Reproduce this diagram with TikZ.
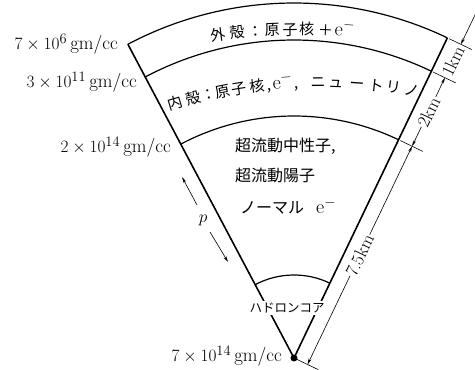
\documentclass[tikz,border=0pt]{standalone}
\usepackage{fontspec}
\newfontfamily\jpfont{Noto Sans CJK JP}
\usetikzlibrary{arrows.meta,calc}
\newcommand{\elec}{{\fontsize{20}{22}\selectfont$\mathrm{e}^{-}$}}
\begin{document}
\begin{tikzpicture}[x=1pt,y=1pt,
  edgeline/.style={line width=1.6pt,line join=round},
  shell/.style={line width=1.2pt},
  dimline/.style={line width=0.6pt},
  tip/.style={-{Stealth[length=6pt,width=3pt]}},
  bothtips/.style={{Stealth[length=6pt,width=3pt]}-{Stealth[length=6pt,width=3pt]}},
  dens/.style={anchor=east,font=\fontsize{19}{21}\selectfont,inner sep=1pt},
  kmlabel/.style={font=\fontsize{18}{20}\selectfont,fill=white,inner sep=1pt,rotate=64.4},
  jpl/.style={font=\jpfont\fontsize{16}{18}\selectfont,anchor=west,inner sep=0pt},
  arcchar/.style={font=\jpfont\fontsize{15}{17}\selectfont,anchor=base,inner sep=0pt},
]
\useasboundingbox (0,0) rectangle (475,370);
\def\angL{117.9}
\def\angR{64.4}
\coordinate (A) at (294,12);
% shells
\foreach \r/\n in {355/a,318/b,242/c,83/k}{
  \coordinate (l\n) at ($(A)+(\angL:\r)$);
  \coordinate (r\n) at ($(A)+(\angR:\r)$);
}
\draw[shell] (la) arc[start angle=\angL,end angle=\angR,radius=355];
\draw[shell] (lb) arc[start angle=\angL,end angle=\angR,radius=318];
\draw[shell] (lc) arc[start angle=\angL,end angle=\angR,radius=242];
\draw[shell] (lk) arc[start angle=\angL,end angle=\angR,radius=83];
\draw[edgeline] (la) -- (A) -- (ra);
\fill (A) circle (3.5);
% core label
\node[fill=white,font=\jpfont\fontsize{12.5}{14}\selectfont,inner sep=1.5pt] (core) at (287,62) {ハドロンコア};
% density labels
\node[dens] (d1) at (119,326) {$7\times10^{6}$\,gm/cc};
\node[dens] (d2) at (138,288) {$3\times10^{11}$\,gm/cc};
\node[dens] (d3) at (172,223) {$2\times10^{14}$\,gm/cc};
\node[dens] (d4) at (283,14) {$7\times10^{14}$\,gm/cc};
% texts in shells (set along arcs)
\coordinate (co) at (300,-300);
\coordinate (ci) at (320.7,-220.8);
\foreach \c/\a [count=\i] in {外/97.3,殻/95.6,：/94.0,原/92.5,子/90.9,核/89.4,＋/87.7,{\elec}/86.0}{
  \node[arcchar,rotate=\a-90] (o\i) at ($(co)+(\a:635)$) {\c};
}
\foreach \c/\a [count=\i] in {内/106.6,殻/104.5,：/102.7,原/101.1,子/99.2,核/97.2,{,}/95.8,{\elec}/94.3,{,}/92.8,ニ/90.3,ュ/88.3,ー/85.9,ト/83.7,リ/81.8,ノ/79.7}{
  \node[arcchar,rotate=\a-90] (i\i) at ($(ci)+(\a:503)$) {\c};
}
\node[jpl] (sn) at (235,224) {超流動中性子,};
\node[jpl] (sp) at (235,195) {超流動陽子};
\node[jpl] (ne) at (240,164) {ノーマル\hspace{12pt}\elec};
% p arrows
\node[font=\fontsize{18}{20}\selectfont] (p) at (203,150) {$p$};
\coordinate (pu1) at (197,165); \coordinate (pu2) at (182,193);
\coordinate (pl1) at (210,138); \coordinate (pl2) at (228,108);
\draw[dimline,tip] (pu1) -- (pu2);
\draw[dimline,tip] (pl1) -- (pl2);
% dimensions
\foreach \r/\n in {355/a,318/b,242/c,0/d}{
  \coordinate (e\n) at ($(A)+(\angR:\r)$);
  \coordinate (s\n) at ($(e\n)+(-25.6:2)$);
  \coordinate (t\n) at ($(e\n)+(-25.6:27)$);
  \coordinate (q\n) at ($(e\n)+(-25.6:15)$);
}
\foreach \n in {a,b,c,d}{\draw[dimline] (s\n) -- (t\n);}
\coordinate (qtop) at ($(qa)+(\angR:48)$);
\draw[dimline,tip] (qtop) -- (qa);
\draw[dimline,bothtips] (qb) -- (qc);
\draw[dimline,bothtips] (qc) -- (qd);
\node[kmlabel] (k1) at ($(qa)!0.5!(qb)$) {1km};
\node[kmlabel] (k2) at ($(qb)!0.5!(qc)$) {2km};
\node[kmlabel] (k3) at ($(qc)!0.5!(qd)$) {7.5km};
\end{tikzpicture}
\end{document}
